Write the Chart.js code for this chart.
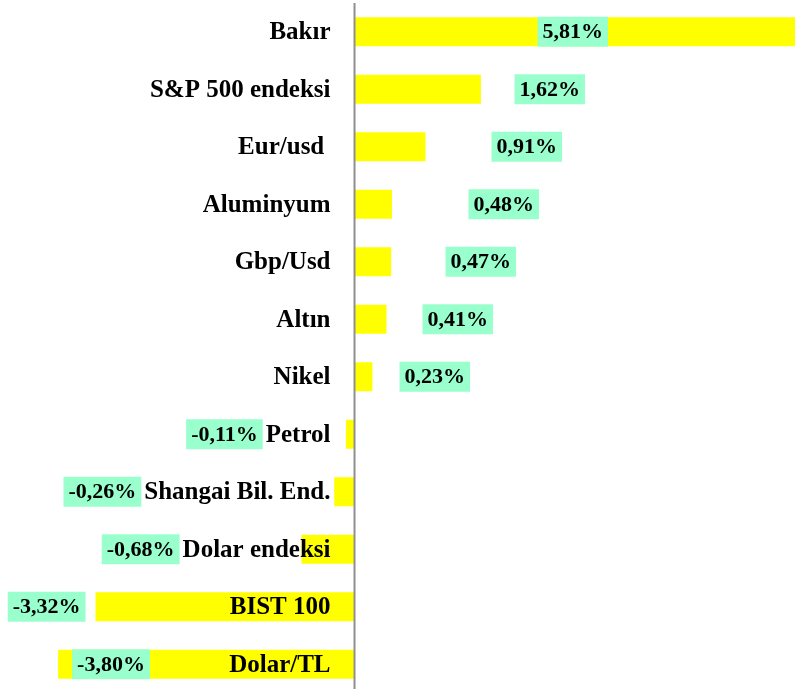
<!DOCTYPE html>
<html>
<head>
<meta charset="utf-8">
<script src="https://cdn.jsdelivr.net/npm/chart.js@4/dist/chart.umd.min.js"></script>
<style>
  html, body { margin: 0; padding: 0; background: #fff; overflow: hidden; }
  #wrap { position: relative; width: 795px; height: 693px; }
</style>
</head>
<body>
<div id="wrap"><canvas id="chart"></canvas></div>
<script>
// weekly change, %
const categories = ['Bakır', 'S&P 500 endeksi', 'Eur/usd ', 'Aluminyum', 'Gbp/Usd', 'Altın', 'Nikel',
  'Petrol', 'Shangai Bil. End.', 'Dolar endeksi', 'BIST 100', 'Dolar/TL'];
const changes = [5.81, 1.62, 0.91, 0.48, 0.47, 0.41, 0.23, -0.11, -0.26, -0.68, -3.32, -3.80];
const xMin = -4.545;
const xMax = 5.647;

const fmt = v => v.toFixed(2).replace('.', ',') + '%';

// zero line, category names and value boxes
const labelPlugin = {
  id: 'barLabels',
  afterDatasetsDraw(chart) {
    const { ctx, chartArea, scales: { x } } = chart;
    const meta = chart.getDatasetMeta(0);
    const zeroX = x.getPixelForValue(0);

    ctx.save();
    ctx.strokeStyle = '#8f8f8f';
    ctx.lineWidth = 2;
    ctx.beginPath();
    ctx.moveTo(zeroX, chartArea.top);
    ctx.lineTo(zeroX, chartArea.bottom + 10);
    ctx.stroke();

    const nameRight = zeroX - 24;
    const positives = changes.filter(v => v >= 0).length;

    meta.data.forEach((bar, i) => {
      const y = bar.y;
      ctx.font = 'bold 25px "Liberation Serif", "Times New Roman", serif';
      ctx.fillStyle = '#000';
      ctx.textAlign = 'right';
      ctx.textBaseline = 'middle';
      ctx.fillText(categories[i], nameRight, y + 1);
      const nameLeft = nameRight - ctx.measureText(categories[i].trimEnd()).width
        - ctx.measureText(' ').width * (categories[i].length - categories[i].trimEnd().length);

      const txt = fmt(changes[i]);
      ctx.font = 'bold 22px "Liberation Serif", "Times New Roman", serif';
      const w = ctx.measureText(txt).width + 10;
      const h = 30;
      let left;
      if (changes[i] >= 0) {
        left = zeroX + 45 + (positives - 1 - i) * 23;
      } else {
        const right = Math.min(nameLeft - 3, bar.x - 10);
        left = right - w;
        if (left < chartArea.left + 2) left = bar.x + 14;
      }
      ctx.fillStyle = '#99ffcc';
      ctx.fillRect(left, y - h / 2, w, h);
      ctx.fillStyle = '#000';
      ctx.textAlign = 'center';
      ctx.fillText(txt, left + w / 2, y + 1);
    });
    ctx.restore();
  }
};

new Chart(document.getElementById('chart'), {
  type: 'bar',
  data: {
    labels: categories,
    datasets: [{
      data: changes,
      backgroundColor: '#ffff00',
      borderWidth: 0,
      categoryPercentage: 1,
      barPercentage: 0.505
    }]
  },
  options: {
    indexAxis: 'y',
    responsive: true,
    maintainAspectRatio: false,
    animation: false,
    layout: { padding: { top: 3, left: 0, right: 0, bottom: 0 } },
    plugins: { legend: { display: false }, tooltip: { enabled: false } },
    scales: {
      x: { display: false, min: xMin, max: xMax },
      y: { display: false }
    }
  },
  plugins: [labelPlugin]
});
</script>
</body>
</html>
